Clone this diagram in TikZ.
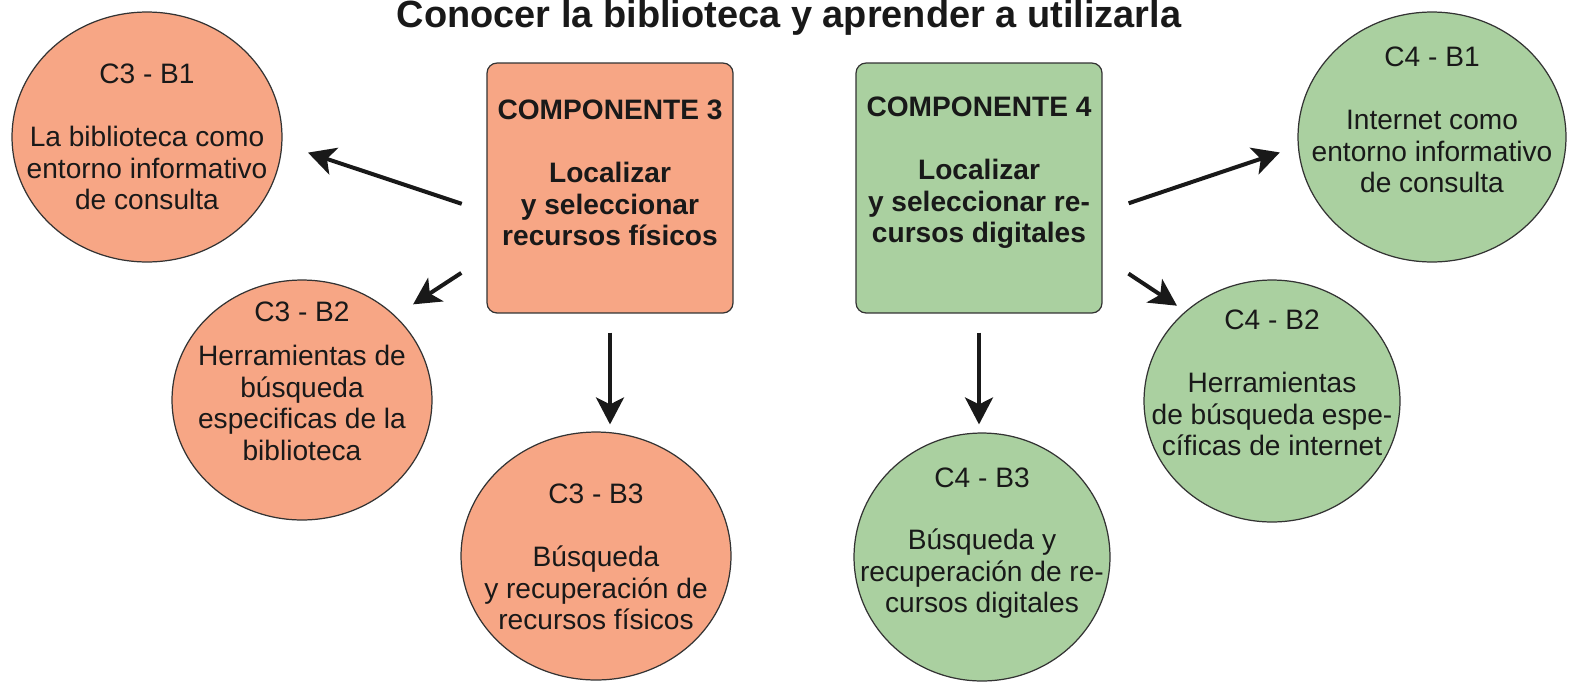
\documentclass[tikz,border=0pt]{standalone}
\usepackage{fontspec}
\setmainfont{Liberation Sans}
\usepackage{tikz}
\usetikzlibrary{
    arrows.meta,
    shapes.geometric,
    calc,
    positioning
}

\definecolor{salmon}{RGB}{247,166,133}
\definecolor{verde}{RGB}{170,208,160}

\begin{document}
\begin{tikzpicture}[x=0.02cm, y=-0.02cm,
    bola/.style={ellipse, draw=black!80, line width=0.7pt, inner sep=0pt},
    caja/.style={rectangle, rounded corners=0.2cm, draw=black!80, line width=0.7pt,
        minimum width=4.92cm, minimum height=5cm},
    texto/.style={align=center, text=black!90, font=\fontsize{16}{17.9}\selectfont},
    negrita/.style={texto, font=\fontsize{16}{17.9}\selectfont\bfseries},
    flecha/.style={-{Stealth[length=0.54cm, width=0.56cm, inset=0.14cm]}, line width=0.08cm, draw=black!90}
]
    \useasboundingbox (0,0) rectangle (1574,683);

    \node[anchor=base, text=black!90, font=\fontsize{21.6}{26}\selectfont\bfseries] (titulo) at (789,27)
        {Conocer la biblioteca y aprender a utilizarla};

    % componente 3
    \node[caja, fill=salmon] (comp3) at (610,188) {};
    \node[bola, fill=salmon, minimum width=5.4cm, minimum height=5cm] (c3b1) at (147,137) {};
    \node[bola, fill=salmon, minimum width=5.2cm, minimum height=4.8cm] (c3b2) at (302,400) {};
    \node[bola, fill=salmon, minimum width=5.4cm, minimum height=4.96cm] (c3b3) at (596,556) {};

    % componente 4
    \node[caja, fill=verde] (comp4) at (979,188) {};
    \node[bola, fill=verde, minimum width=5.36cm, minimum height=5cm] (c4b1) at (1432,137) {};
    \node[bola, fill=verde, minimum width=5.12cm, minimum height=4.84cm] (c4b2) at (1272,401) {};
    \node[bola, fill=verde, minimum width=5.12cm, minimum height=4.96cm] (c4b3) at (982,557) {};

    % textos
    \node[negrita] (comp3txt) at (610,173) {COMPONENTE 3\\[\baselineskip]Localizar\\y seleccionar\\recursos físicos};
    \node[negrita] (comp4txt) at (979,173) {COMPONENTE 4\\[\baselineskip]Localizar\\y seleccionar re-\\cursos digitales};
    \node[texto] (c3b1txt) at (147,137) {C3 - B1\\[\baselineskip]La biblioteca como\\entorno informativo\\de consulta};
    \node[texto] (c3b2txt) at (302,381) {C3 - B2\\[0.27cm]Herramientas de\\búsqueda\\especificas de la\\biblioteca};
    \node[texto] (c3b3txt) at (596,557) {C3 - B3\\[\baselineskip]Búsqueda\\y recuperación de\\recursos físicos};
    \node[texto] (c4b1txt) at (1432,120) {C4 - B1\\[\baselineskip]Internet como\\entorno informativo\\de consulta};
    \node[texto] (c4b2txt) at (1272,383) {C4 - B2\\[\baselineskip]Herramientas\\de búsqueda espe-\\cíficas de internet};
    \node[texto] (c4b3txt) at (982,543) {C4 - B3\\[\baselineskip]Búsqueda y\\recuperación de re-\\cursos digitales};

    % flechas
    \draw[flecha, shorten <=0.52cm, shorten >=0.54cm] (comp3.191) -- (c3b1.-3);
    \draw[flecha, shorten <=0.6cm, shorten >=0.42cm] (comp3.209) -- (c3b2.42);
    \draw[flecha, shorten <=0.38cm, shorten >=0.14cm] (comp3.south) -- (comp3.south |- c3b3.north);
    \draw[flecha, shorten <=0.55cm, shorten >=0.38cm] (comp4.-11) -- (c4b1.184);
    \draw[flecha, shorten <=0.62cm, shorten >=0.2cm] (comp4.-29) -- (c4b2.134);
    \draw[flecha, shorten <=0.38cm, shorten >=0.16cm] (comp4.south) -- (comp4.south |- c4b3.north);
\end{tikzpicture}
\end{document}
